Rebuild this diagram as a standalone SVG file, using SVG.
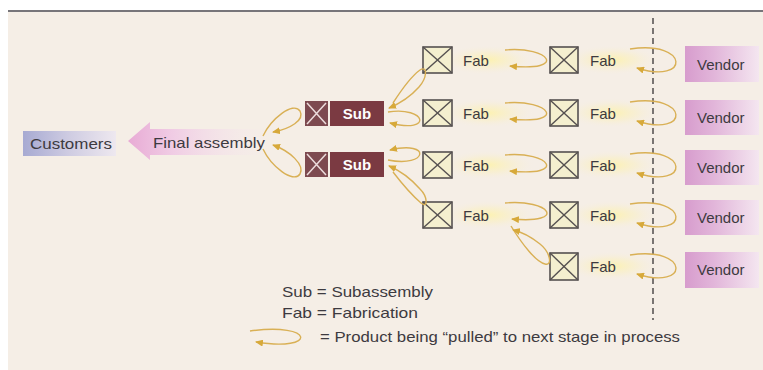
<svg xmlns="http://www.w3.org/2000/svg" width="763" height="370" viewBox="0 0 763 370">
<defs>
<linearGradient id="gCust" x1="0" y1="0" x2="1" y2="0">
<stop offset="0" stop-color="#a7aad2"/><stop offset="0.5" stop-color="#cfcce2"/><stop offset="1" stop-color="#eee8ef"/>
</linearGradient>
<linearGradient id="gVend" x1="0" y1="0" x2="1" y2="0">
<stop offset="0" stop-color="#d79ccd"/><stop offset="0.4" stop-color="#e2b6da"/><stop offset="1" stop-color="#f4e6f0"/>
</linearGradient>
<linearGradient id="gArrow" x1="0" y1="0" x2="1" y2="0">
<stop offset="0" stop-color="#e8abd5"/><stop offset="0.3" stop-color="#f0cbe4"/><stop offset="1" stop-color="#f6ebef" stop-opacity="0"/>
</linearGradient>
<radialGradient id="gGlow">
<stop offset="0" stop-color="#fff3a0" stop-opacity="0.75"/><stop offset="0.5" stop-color="#fbf0b8" stop-opacity="0.4"/><stop offset="1" stop-color="#f6eee4" stop-opacity="0"/>
</radialGradient>
<marker id="ah" markerUnits="userSpaceOnUse" markerWidth="8" markerHeight="7" refX="7" refY="3.5" orient="auto">
<path d="M0,0 L8,3.5 L0,7 z" fill="#d7a93a"/>
</marker>
</defs>
<style>
text{font-family:"Liberation Sans",Arial,sans-serif;}
.lbl{font-size:15px;fill:#3d3a40;}
.sub{font-size:15px;font-weight:bold;fill:#ffffff;}
.fabx{fill:#f4efcf;stroke:#555050;stroke-width:1.6;}
.fabx line{stroke:#555050;stroke-width:1.4;}
.subx{fill:#7d4a50;}
.subbox{fill:#7b3a42;}
.vend{fill:url(#gVend);}
.glow{fill:url(#gGlow);}
.loop{fill:none;stroke:#d9b055;stroke-width:1.4;marker-end:url(#ah);}
</style>
<rect x="0" y="0" width="763" height="370" fill="#ffffff"/>
<rect x="8" y="12" width="755" height="358" fill="#f5eee6"/>
<line x1="8" y1="11" x2="763" y2="11" stroke="#77757a" stroke-width="2"/>

<g id="glows">
<ellipse class="glow" cx="488" cy="60" rx="48" ry="15"/>
<ellipse class="glow" cx="488" cy="113" rx="48" ry="15"/>
<ellipse class="glow" cx="488" cy="165" rx="48" ry="15"/>
<ellipse class="glow" cx="488" cy="215" rx="48" ry="15"/>
<ellipse class="glow" cx="612" cy="60" rx="48" ry="15"/>
<ellipse class="glow" cx="612" cy="113" rx="48" ry="15"/>
<ellipse class="glow" cx="612" cy="165" rx="48" ry="15"/>
<ellipse class="glow" cx="612" cy="215" rx="48" ry="15"/>
<ellipse class="glow" cx="612" cy="266" rx="48" ry="15"/>
</g>

<line id="divider" x1="653" y1="18" x2="653" y2="320" stroke="#5a5656" stroke-width="1.6" stroke-dasharray="6,4"/>

<g id="customers">
<rect x="23" y="131" width="93" height="25" fill="url(#gCust)"/>
<text class="lbl" x="30" y="149" textLength="82" lengthAdjust="spacingAndGlyphs" fill="#3b3f5a">Customers</text>
</g>

<g id="final-assembly">
<polygon points="128,141 150,122 150,129 272,129 272,155 150,155 150,160" fill="url(#gArrow)"/>
<text class="lbl" x="153" y="148" textLength="112" lengthAdjust="spacingAndGlyphs">Final assembly</text>
</g>

<g id="sub1">
<rect class="subx" x="305" y="101" width="23" height="25"/>
<path d="M307,103 L326,124 M326,103 L307,124" stroke="#ecdcdc" stroke-width="1.5"/>
<rect class="subbox" x="330" y="101" width="54" height="25"/>
<text class="sub" x="357" y="119" text-anchor="middle">Sub</text>
</g>
<g id="sub2">
<rect class="subx" x="305" y="152" width="23" height="25"/>
<path d="M307,154 L326,175 M326,154 L307,175" stroke="#ecdcdc" stroke-width="1.5"/>
<rect class="subbox" x="330" y="152" width="54" height="25"/>
<text class="sub" x="357" y="170" text-anchor="middle">Sub</text>
</g>

<g id="fab-1-1"><rect class="fabx" x="423" y="47" width="29" height="26"/><g class="fabx"><line x1="423" y1="47" x2="452" y2="73"/><line x1="452" y1="47" x2="423" y2="73"/></g><text class="lbl" x="463" y="66">Fab</text></g>
<g id="fab-1-2"><rect class="fabx" x="423" y="100" width="29" height="26"/><g class="fabx"><line x1="423" y1="100" x2="452" y2="126"/><line x1="452" y1="100" x2="423" y2="126"/></g><text class="lbl" x="463" y="119">Fab</text></g>
<g id="fab-1-3"><rect class="fabx" x="423" y="152" width="29" height="26"/><g class="fabx"><line x1="423" y1="152" x2="452" y2="178"/><line x1="452" y1="152" x2="423" y2="178"/></g><text class="lbl" x="463" y="171">Fab</text></g>
<g id="fab-1-4"><rect class="fabx" x="423" y="202" width="29" height="26"/><g class="fabx"><line x1="423" y1="202" x2="452" y2="228"/><line x1="452" y1="202" x2="423" y2="228"/></g><text class="lbl" x="463" y="221">Fab</text></g>

<g id="fab-2-1"><rect class="fabx" x="550" y="47" width="28" height="26"/><g class="fabx"><line x1="550" y1="47" x2="578" y2="73"/><line x1="578" y1="47" x2="550" y2="73"/></g><text class="lbl" x="590" y="66">Fab</text></g>
<g id="fab-2-2"><rect class="fabx" x="550" y="100" width="28" height="26"/><g class="fabx"><line x1="550" y1="100" x2="578" y2="126"/><line x1="578" y1="100" x2="550" y2="126"/></g><text class="lbl" x="590" y="119">Fab</text></g>
<g id="fab-2-3"><rect class="fabx" x="550" y="152" width="28" height="26"/><g class="fabx"><line x1="550" y1="152" x2="578" y2="178"/><line x1="578" y1="152" x2="550" y2="178"/></g><text class="lbl" x="590" y="171">Fab</text></g>
<g id="fab-2-4"><rect class="fabx" x="550" y="202" width="28" height="26"/><g class="fabx"><line x1="550" y1="202" x2="578" y2="228"/><line x1="578" y1="202" x2="550" y2="228"/></g><text class="lbl" x="590" y="221">Fab</text></g>
<g id="fab-2-5"><rect class="fabx" x="550" y="253" width="28" height="27"/><g class="fabx"><line x1="550" y1="253" x2="578" y2="280"/><line x1="578" y1="253" x2="550" y2="280"/></g><text class="lbl" x="590" y="272">Fab</text></g>

<g id="vendor-1"><rect class="vend" x="685" y="46" width="74" height="36"/><text class="lbl" x="697" y="70">Vendor</text></g>
<g id="vendor-2"><rect class="vend" x="685" y="100" width="74" height="35"/><text class="lbl" x="697" y="123">Vendor</text></g>
<g id="vendor-3"><rect class="vend" x="685" y="150" width="74" height="35"/><text class="lbl" x="697" y="173">Vendor</text></g>
<g id="vendor-4"><rect class="vend" x="685" y="200" width="74" height="35"/><text class="lbl" x="697" y="223">Vendor</text></g>
<g id="vendor-5"><rect class="vend" x="685" y="252" width="74" height="36"/><text class="lbl" x="697" y="275">Vendor</text></g>

<g id="connectors">
<path class="loop" d="M630,49 C690,40 690,85 637,68"/>
<path class="loop" d="M630,102 C690,93 690,138 637,121"/>
<path class="loop" d="M630,154 C690,145 690,190 637,173"/>
<path class="loop" d="M630,204 C690,195 690,240 637,223"/>
<path class="loop" d="M630,255 C690,246 690,291 637,274"/>
<path class="loop" d="M505,50 C550,46 568,72 510,66"/>
<path class="loop" d="M505,103 C550,99 568,125 510,119"/>
<path class="loop" d="M505,155 C550,151 568,177 510,171"/>
<path class="loop" d="M505,203 C550,199 568,224 512,219"/>
<path class="loop" d="M511,226 C522,244 536,262 545,264 C553,266 550,252 540,244 C530,236 522,232 513,230"/>
<path class="loop" d="M393,103 C402,89 413,75 420,70 C428,65 427,78 419,87 C411,96 401,103 389,108"/>
<path class="loop" d="M388,112 C426,106 434,134 390,123"/>
<path class="loop" d="M388,160 C428,168 432,140 390,150"/>
<path class="loop" d="M393,172 C403,185 414,197 421,203 C428,209 428,197 420,189 C412,180 401,171 389,166"/>
<path class="loop" d="M263,136 C271,119 293,101 300,111 C305,120 290,129 273,132"/>
<path class="loop" d="M263,149 C271,166 293,184 300,174 C305,165 290,151 273,145"/>
</g>

<g id="legend">
<text class="lbl" x="282" y="297" textLength="151" lengthAdjust="spacingAndGlyphs">Sub = Subassembly</text>
<text class="lbl" x="282" y="318" textLength="136" lengthAdjust="spacingAndGlyphs">Fab = Fabrication</text>
<path class="loop" d="M250,331 C315,322 318,352 256,342"/>
<text class="lbl" x="320" y="342" textLength="360" lengthAdjust="spacingAndGlyphs">= Product being “pulled” to next stage in process</text>
</g>
</svg>
